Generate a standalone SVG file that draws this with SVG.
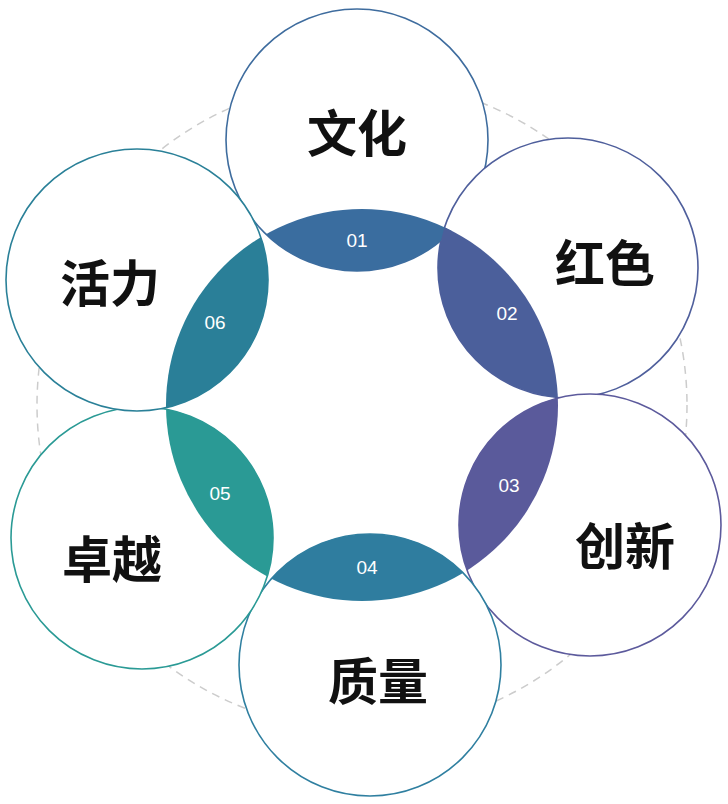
<svg xmlns="http://www.w3.org/2000/svg" width="728" height="804" viewBox="0 0 728 804">
<style>
.c{fill:#fff;stroke-width:1.6}
.t{font-family:"Noto Sans CJK SC",sans-serif;font-size:50px;font-weight:700;fill:#111;text-anchor:middle}
.n{font-family:"Liberation Sans",sans-serif;font-size:19px;fill:#fff;text-anchor:middle}
</style>
<defs><clipPath id="cc"><circle cx="362" cy="405" r="196"/></clipPath></defs>
<rect width="728" height="804" fill="#fff"/>
<circle cx="362" cy="405" r="325" fill="none" stroke="#ccc" stroke-width="1.5" stroke-dasharray="8 6"/>
<g id="n1"><circle class="c" cx="357" cy="140" r="131" stroke="#3e6c9e"/><text class="t" x="357" y="152">文化</text></g>
<g id="n2"><circle class="c" cx="568" cy="268" r="130" stroke="#4f5f9c"/><text class="t" x="605" y="282">红色</text></g>
<g id="n3"><circle class="c" cx="590" cy="525" r="131" stroke="#5c5a9c"/><text class="t" x="625" y="565">创新</text></g>
<g id="n4"><circle class="c" cx="370" cy="665" r="131" stroke="#2f7fa0"/><text class="t" x="378" y="700">质量</text></g>
<g id="n5"><circle class="c" cx="142" cy="538" r="131" stroke="#2a9a95"/><text class="t" x="112" y="578">卓越</text></g>
<g id="n6"><circle class="c" cx="137" cy="280" r="131" stroke="#2a8098"/><text class="t" x="110" y="302">活力</text></g>
<g id="lenses" clip-path="url(#cc)">
<circle cx="357" cy="140" r="131" fill="#3a6d9f"/>
<circle cx="568" cy="268" r="130" fill="#4b5f9b"/>
<circle cx="590" cy="525" r="131" fill="#5a5a9b"/>
<circle cx="370" cy="665" r="131" fill="#2f7d9f"/>
<circle cx="142" cy="538" r="131" fill="#2a9a95"/>
<circle cx="137" cy="280" r="131" fill="#2a7f98"/>
</g>
<g id="nums">
<text class="n" x="357" y="247">01</text><text class="n" x="507" y="320">02</text><text class="n" x="509" y="492">03</text>
<text class="n" x="367" y="574">04</text><text class="n" x="220" y="500">05</text><text class="n" x="215" y="329">06</text>
</g>
</svg>
